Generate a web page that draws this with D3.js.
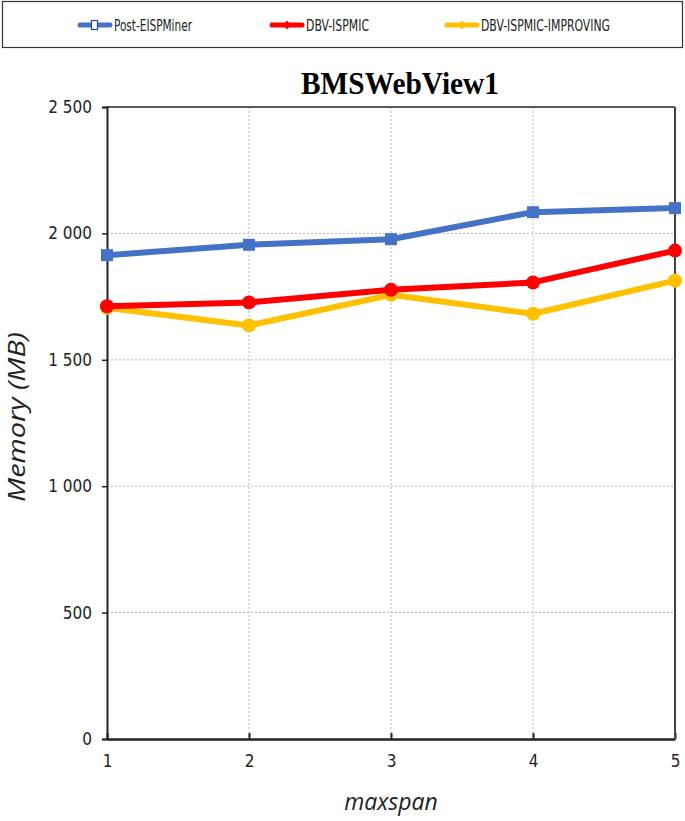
<!DOCTYPE html>
<html><head><meta charset="utf-8">
<script src="https://cdn.jsdelivr.net/npm/d3@7"></script>
<style>body{margin:0;background:#fff}svg{display:block}</style>
</head><body>
<svg id="c" width="685" height="821"></svg>
<script>
const categories = [1, 2, 3, 4, 5];
const postEISPMiner = [1914, 1955, 1977, 2084, 2100];
const dbvISPMIC = [1712, 1727, 1777, 1806, 1932];
const dbvISPMICImproving = [1706, 1636, 1757, 1682, 1813];
const yTicks = [0, 500, 1000, 1500, 2000, 2500];
const seriesNames = ["Post-EISPMiner", "DBV-ISPMIC", "DBV-ISPMIC-IMPROVING"];
const seriesColors = ["#4472c4", "#ff0000", "#ffc000"];

const svg = d3.select("#c");
const L = 107, R = 675, T = 107, B = 739;
const x = d3.scaleLinear().domain([1, 5]).range([L, R]);
const y = d3.scaleLinear().domain([0, 2500]).range([B, T]);
const tickFont = "'Liberation Sans Narrow','DejaVu Sans Condensed',sans-serif";
const fmt = v => d3.format(",")(v).replace(/,/g, " ");

// legend box
svg.append("rect").attr("x", 2.5).attr("y", 1.5).attr("width", 680).attr("height", 46)
  .attr("fill", "#fff").attr("stroke", "#333").attr("stroke-width", 1.2);

// grid
svg.append("g").selectAll("line").data(yTicks.filter(d => d > 0 && d < 2500)).join("line")
  .attr("x1", L).attr("x2", R).attr("y1", d => y(d)).attr("y2", d => y(d))
  .attr("stroke", "#b8b8b8").attr("stroke-dasharray", "2,2").attr("stroke-width", 1);
svg.append("g").selectAll("line").data(categories.filter(d => d > 1 && d < 5)).join("line")
  .attr("y1", T).attr("y2", B).attr("x1", d => x(d)).attr("x2", d => x(d))
  .attr("stroke", "#b8b8b8").attr("stroke-dasharray", "2,2").attr("stroke-width", 1);

// axes
const yAxis = svg.append("g").attr("transform", `translate(${L},0)`)
  .call(d3.axisLeft(y).tickValues(yTicks).tickFormat(fmt).tickSize(5).tickPadding(10));
yAxis.select(".domain").attr("stroke", "#222").attr("stroke-width", 2);
yAxis.selectAll(".tick line").attr("stroke", "#222").attr("stroke-width", 1.5);
yAxis.selectAll("text").attr("font-family", tickFont).attr("font-size", 17).attr("fill", "#222");

const xAxis = svg.append("g").attr("transform", `translate(0,${B})`)
  .call(d3.axisBottom(x).tickValues(categories).tickFormat(d3.format("d")).tickSizeInner(-6).tickSizeOuter(0).tickPadding(16));
xAxis.select(".domain").attr("stroke", "#222").attr("stroke-width", 2.5);
xAxis.selectAll(".tick line").attr("stroke", "#222").attr("stroke-width", 2);
xAxis.selectAll("text").attr("font-family", tickFont).attr("font-size", 17).attr("fill", "#222");

// top and right frame
svg.append("line").attr("x1", L).attr("x2", R).attr("y1", T).attr("y2", T).attr("stroke", "#222").attr("stroke-width", 1.5);
svg.append("line").attr("x1", R).attr("x2", R).attr("y1", T).attr("y2", B).attr("stroke", "#444").attr("stroke-width", 2);

// title
svg.append("text").attr("x", 400).attr("y", 94).attr("text-anchor", "middle")
  .attr("font-family", "'Liberation Serif','Times New Roman',serif").attr("font-weight", "bold")
  .attr("font-size", 31).attr("textLength", 198).attr("lengthAdjust", "spacingAndGlyphs")
  .text("BMSWebView1");

// axis titles
svg.append("text").attr("x", 391).attr("y", 810).attr("text-anchor", "middle")
  .attr("font-family", "'Open Sans',sans-serif").attr("font-style", "italic").attr("font-size", 23)
  .attr("fill", "#222").text("maxspan");
svg.append("text").attr("transform", "translate(25,417) rotate(-90)").attr("text-anchor", "middle")
  .attr("font-family", "'Open Sans',sans-serif").attr("font-style", "italic").attr("font-size", 23)
  .attr("textLength", 170).attr("lengthAdjust", "spacingAndGlyphs")
  .attr("fill", "#222").text("Memory (MB)");

// lines
const allSeries = [postEISPMiner, dbvISPMIC, dbvISPMICImproving];
const line = d3.line().x((d, i) => x(categories[i])).y(d => y(d));
const drawOrder = [2, 1, 0];
drawOrder.forEach(si => {
  svg.append("path").datum(allSeries[si]).attr("d", line).attr("fill", "none")
    .attr("stroke", seriesColors[si]).attr("stroke-width", 6).attr("stroke-linejoin", "round");
  if (si === 0) {
    svg.append("g").selectAll("rect").data(allSeries[si]).join("rect")
      .attr("x", (d, i) => x(categories[i]) - 6).attr("y", d => y(d) - 6)
      .attr("width", 12).attr("height", 12).attr("fill", seriesColors[si]);
  } else {
    svg.append("g").selectAll("circle").data(allSeries[si]).join("circle")
      .attr("cx", (d, i) => x(categories[i])).attr("cy", d => y(d)).attr("r", 7)
      .attr("fill", seriesColors[si]);
  }
});

// legend
const legX = [80, 272, 447];
const legW = [78, 63, 129];
seriesNames.forEach((name, i) => {
  const g = svg.append("g").attr("transform", `translate(${legX[i]},25)`);
  g.append("line").attr("x1", 0).attr("x2", 30).attr("y1", 0).attr("y2", 0)
    .attr("stroke", seriesColors[i]).attr("stroke-width", 5).attr("stroke-linecap", "round");
  if (i === 0) {
    g.append("rect").attr("x", 11.5).attr("y", -4.5).attr("width", 6).attr("height", 9)
      .attr("fill", "#fff").attr("stroke", "#2a3fd0").attr("stroke-width", 1.2);
  } else {
    g.append("path").attr("d", "M15,-4.5 L19,0 L15,4.5 L11,0 Z").attr("fill", seriesColors[i]);
  }
  g.append("text").attr("x", 34).attr("y", 5.5).attr("font-family", tickFont)
    .attr("font-size", 15).attr("textLength", legW[i]).attr("lengthAdjust", "spacingAndGlyphs")
    .attr("fill", "#222").text(name);
});
</script>
</body></html>
